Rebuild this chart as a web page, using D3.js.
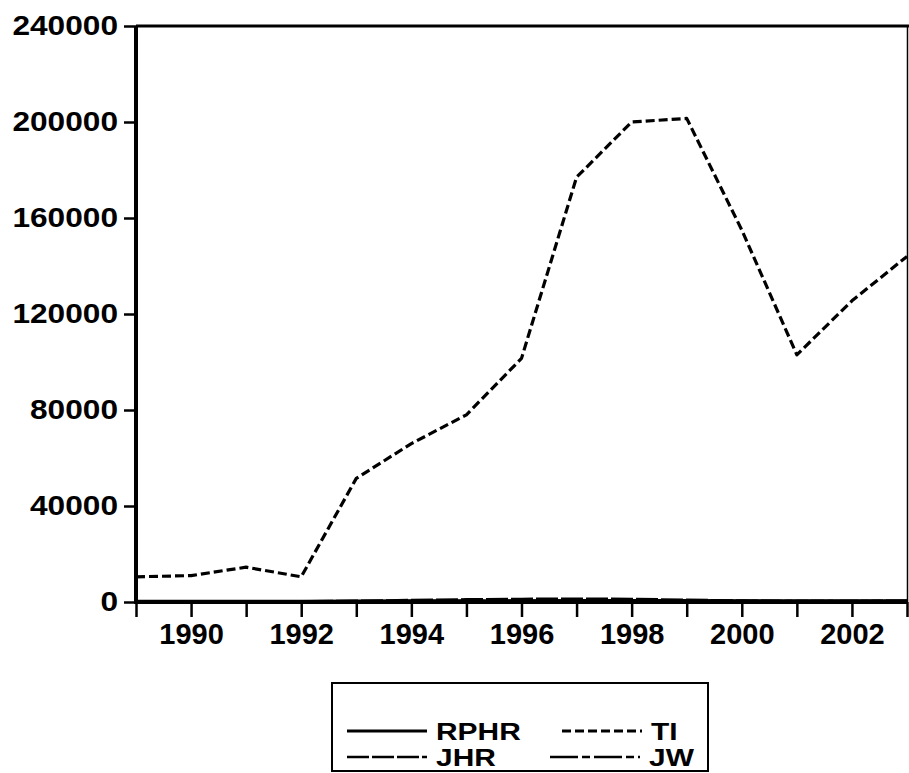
<!DOCTYPE html>
<html>
<head>
<meta charset="utf-8">
<script src="https://cdn.jsdelivr.net/npm/d3@7"></script>
<style>
  html, body { margin: 0; padding: 0; background: #fff; }
  svg { display: block; }
  text { font-family: "Liberation Sans", Arial, sans-serif; fill: #000; }
</style>
</head>
<body>
<svg id="chart" width="909" height="773"></svg>
<script>
// ---- data ----
const years = [1989, 1990, 1991, 1992, 1993, 1994, 1995, 1996, 1997, 1998, 1999, 2000, 2001, 2002, 2003];
const RPHR = [300, 320, 350, 330, 420, 480, 520, 560, 600, 620, 600, 560, 520, 540, 560];
const TI   = [10500, 11000, 14500, 10500, 51500, 66000, 78000, 101500, 177000, 200000, 201500, 155000, 103000, 125500, 144000];
const JHR  = [200, 250, 300, 280, 500, 800, 1100, 1300, 1350, 1300, 900, 600, 400, 450, 500];
const JW   = [150, 180, 200, 190, 300, 380, 450, 500, 520, 540, 500, 450, 380, 400, 420];
const yTicks = [0, 40000, 80000, 120000, 160000, 200000, 240000];
const xLabelYears = [1990, 1992, 1994, 1996, 1998, 2000, 2002];
const seriesNames = ["RPHR", "TI", "JHR", "JW"];

(function () {
// ---- layout ----
const svg = d3.select("#chart");
const pL = 136, pR = 907, pT = 26, pB = 602;

const x = d3.scaleLinear().domain([1989, 2003]).range([pL, pR]);
const y = d3.scaleLinear().domain([0, 240000]).range([pB, pT]);

const styles = {
  RPHR: { dash: null, width: 3 },
  TI:   { dash: "9,4", width: 3.2 },
  JHR:  { dash: "22,3", width: 2.5 },
  JW:   { dash: "28,4,8,4", width: 2.5 }
};
const values = { RPHR, TI, JHR, JW };

// frame top & right
svg.append("line").attr("x1", pL).attr("x2", 909).attr("y1", pT).attr("y2", pT)
  .attr("stroke", "#000").attr("stroke-width", 3);
svg.append("line").attr("x1", pR + 0.5).attr("x2", pR + 0.5).attr("y1", pT).attr("y2", pB)
  .attr("stroke", "#000").attr("stroke-width", 1.5);

// series lines
const line = d3.line().x((d, i) => x(years[i])).y(d => y(d));
seriesNames.forEach(name => {
  svg.append("path")
    .datum(values[name])
    .attr("fill", "none")
    .attr("stroke", "#000")
    .attr("stroke-width", styles[name].width)
    .attr("stroke-dasharray", styles[name].dash)
    .attr("stroke-linejoin", "round")
    .attr("d", line);
});

// y axis
const yAxis = svg.append("g").attr("transform", `translate(${pL},0)`)
  .call(d3.axisLeft(y).tickValues(yTicks).tickFormat(d3.format("d")).tickSize(12).tickPadding(6));
yAxis.select(".domain").attr("stroke-width", 4).attr("d", `M0,${pT}V${pB + 2}`);
yAxis.selectAll(".tick line").attr("stroke-width", 2.5);
yAxis.selectAll(".tick text")
  .attr("font-size", 28).attr("font-weight", "bold")
  .each(function() {
    const w = this.getComputedTextLength();
    d3.select(this).attr("textLength", w * 1.13).attr("lengthAdjust", "spacingAndGlyphs");
  });

// x axis
const xAxis = svg.append("g").attr("transform", `translate(0,${pB})`)
  .call(d3.axisBottom(x).tickValues(years).tickSize(15).tickPadding(6)
    .tickFormat(d => xLabelYears.includes(d) ? String(d) : ""));
xAxis.select(".domain").attr("stroke-width", 4).attr("d", `M${pL - 2},0H${pR + 1}`);
xAxis.selectAll(".tick line").attr("stroke-width", 2.5);
xAxis.selectAll(".tick text").attr("font-size", 29).attr("font-weight", "bold");

// legend
const lg = svg.append("g");
lg.append("rect").attr("x", 332).attr("y", 683).attr("width", 376).attr("height", 88)
  .attr("fill", "none").attr("stroke", "#000").attr("stroke-width", 2);
const legendItems = [
  { name: "RPHR", x1: 347, x2: 427, ty: 731 },
  { name: "TI",   x1: 562, x2: 642, ty: 731 },
  { name: "JHR",  x1: 347, x2: 427, ty: 757 },
  { name: "JW",   x1: 550, x2: 640, ty: 757 }
];
legendItems.forEach(it => {
  lg.append("line").attr("x1", it.x1).attr("x2", it.x2).attr("y1", it.ty).attr("y2", it.ty)
    .attr("stroke", "#000").attr("stroke-width", styles[it.name].width)
    .attr("stroke-dasharray", styles[it.name].dash);
  const t = lg.append("text").attr("x", it.x2 + 9).attr("y", it.ty + 8.5)
    .attr("font-size", 23).attr("font-weight", "bold").text(it.name);
  const w = t.node().getComputedTextLength();
  t.attr("textLength", w * 1.3).attr("lengthAdjust", "spacingAndGlyphs");
});
})();
</script>
</body>
</html>
